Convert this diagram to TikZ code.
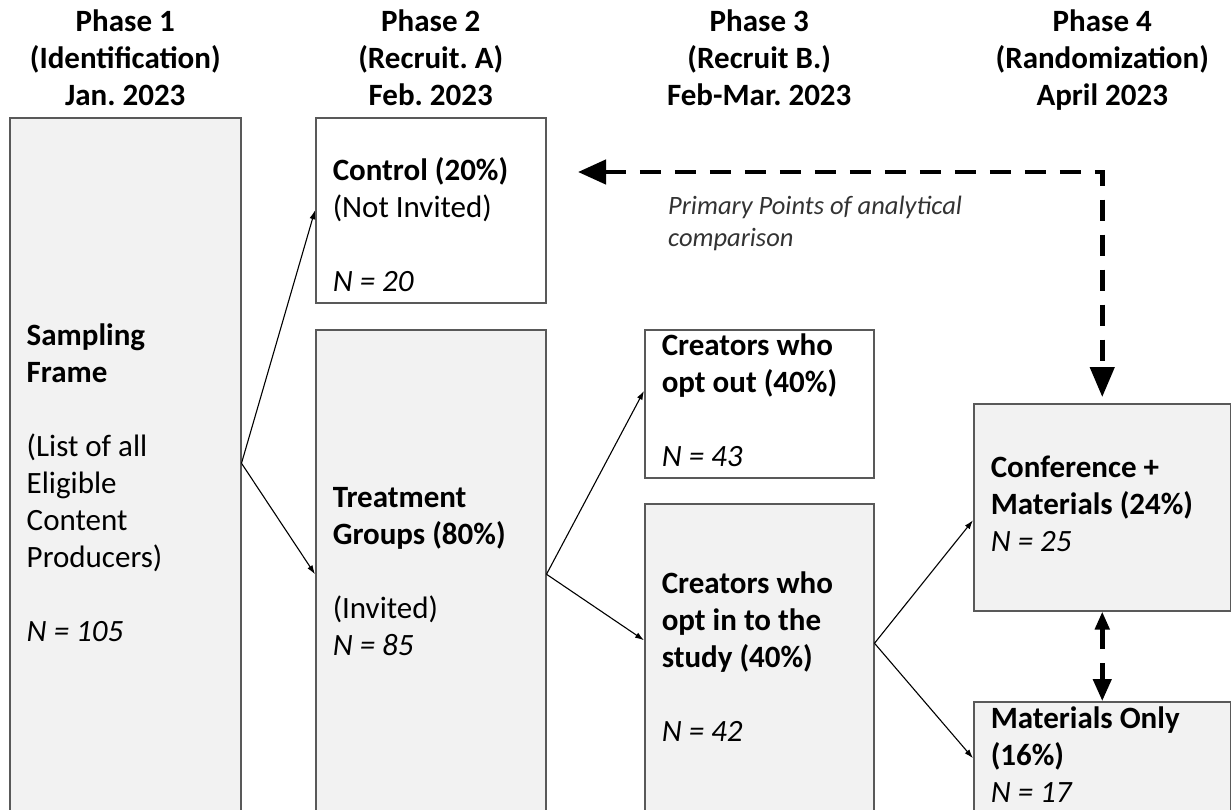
\documentclass[tikz,border=0pt]{standalone}
\usepackage{fontspec}
\setmainfont{Carlito}
\usetikzlibrary{arrows.meta,positioning}
\newcommand{\boxfont}{\fontsize{31}{37}\selectfont}
\newcommand{\notefont}{\fontsize{26.5}{32}\selectfont}
\newcommand{\plainspace}{\spaceskip=0pt\xspaceskip=0pt\frenchspacing}

\begin{document}
\begin{tikzpicture}[x=1pt, y=-1pt,
  block/.style={draw=black!65, line width=1.5pt, anchor=north west,
    inner xsep=17pt, inner ysep=0pt, align=left, font=\boxfont,
    execute at begin node=\plainspace\strut,
    execute at end node=\strut},
  greybox/.style={block, fill=black!5},
  whitebox/.style={block, fill=white},
  phase/.style={font=\boxfont\bfseries, align=center, inner sep=0pt,
    execute at begin node=\plainspace\strut,
    execute at end node=\strut},
  arr/.style={-{Latex[length=9pt,width=6pt]}, line width=1.1pt},
  cmpline/.style={line width=4.5pt, dash pattern=on 21pt off 14pt},
  lbl/.style={font=\notefont\itshape, text=black!80, align=left,
    inner sep=0pt, execute at begin node=\plainspace\strut,
    execute at end node=\strut}
]
\useasboundingbox (0,0) rectangle (1231,809);
\clip (0,0) rectangle (1231,809);

% Boxes
\node[greybox, minimum width=231pt, minimum height=737pt,
  text width=197pt] (frame) at (9,117)
  {\textbf{Sampling}\\ \textbf{Frame}\\ \strut\\ (List of all\\
   Eligible\\ Content\\ Producers)\\ \strut\\ \textit{N = 105}};
\node[whitebox, minimum width=230pt, minimum height=175pt,
  text width=196pt] (control) at (315,117)
  {\strut\\ \textbf{Control (20\%)}\\ (Not Invited)\\ \strut\\
   \textit{N = 20}};
\node[greybox, minimum width=230pt, minimum height=489pt,
  text width=196pt] (treatment) at (315,329)
  {\textbf{Treatment}\\ \textbf{Groups~(80\%)}\\ \strut\\ (Invited)\\
   \textit{N = 85}};
\node[whitebox, minimum width=229pt, minimum height=143pt,
  text width=195pt] (optout) at (644,329)
  {\textbf{Creators who}\\ \textbf{opt out (40\%)}\\ \strut\\
   \textit{N = 43}};
\node[greybox, minimum width=229pt, minimum height=313pt,
  text width=195pt] (optin) at (644,503)
  {\textbf{Creators who}\\ \textbf{opt in to the}\\
   \textbf{study (40\%)}\\ \strut\\ \textit{N = 42}};
\node[greybox, minimum width=257pt, minimum height=207pt,
  text width=223pt] (conference) at (973,403)
  {\textbf{Conference +}\\ \textbf{Materials (24\%)}\\ \textit{N = 25}};
\node[greybox, minimum width=257pt, minimum height=113pt,
  text width=223pt] (materials) at (973,701)
  {\textbf{Materials Only}\\ \textbf{(16\%)}\\ \textit{N = 17}};

% Phase headers
\node[phase, above=0pt of frame] (ph1)
  {Phase 1\\(Identification)\\Jan. 2023};
\node[phase, above=0pt of control] (ph2)
  {Phase 2\\(Recruit. A)\\Feb. 2023};
\node[phase, anchor=south] (ph3) at (optout.north |- control.north)
  {Phase 3\\(Recruit B.)\\Feb-Mar. 2023};
\node[phase, anchor=south] (ph4) at (conference.north |- control.north)
  {Phase 4\\(Randomization)\\April 2023};

% Flow arrows
\draw[arr] ([yshift=23pt]frame.east) -- (control.west);
\draw[arr] ([yshift=23pt]frame.east) -- (treatment.west);
\draw[arr] (treatment.east) -- ([yshift=13pt]optout.west);
\draw[arr] (treatment.east) -- ([yshift=20pt]optin.west);
\draw[arr] ([yshift=17pt]optin.east) -- ([yshift=-13pt]conference.west);
\draw[arr] ([yshift=17pt]optin.east) -- (materials.west);

% Comparison
\coordinate (cmp) at (578,172);
\draw[cmpline, {Triangle[length=28pt,width=24pt]}-{Triangle[length=30pt,width=24pt]},
  shorten >=6pt] (cmp) -| (conference.north);
\draw[cmpline, {Triangle[length=18pt,width=14pt]}-{Triangle[length=22pt,width=18pt]}]
  (conference.south) -- (materials.north);
\node[lbl, below right=24pt and 90pt of cmp] (note)
  {Primary Points of analytical\\comparison};

\end{tikzpicture}
\end{document}
